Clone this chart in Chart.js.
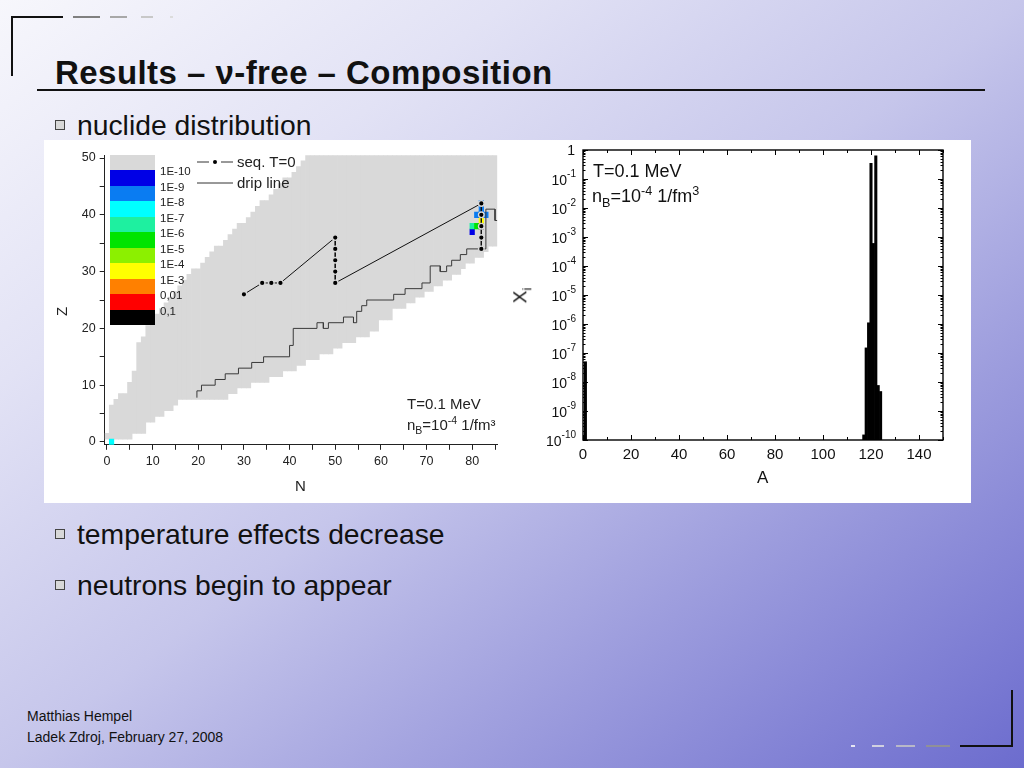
<!DOCTYPE html>
<html>
<head>
<meta charset="utf-8">
<script src="https://cdn.jsdelivr.net/npm/chart.js@4.4.1/dist/chart.umd.min.js"></script>
<style>
  html, body { margin: 0; padding: 0; }
  body {
    width: 1024px; height: 768px; position: relative; overflow: hidden;
    font-family: Arial, "Liberation Sans", sans-serif; color: #111;
    background: linear-gradient(to bottom right, #f7f7fc 0%, #e2e2f5 25%, #c6c6eb 50%, #9c9cdd 73%, #6c6cce 100%);
  }
  .abs { position: absolute; white-space: nowrap; }
  .panel { left: 44px; top: 140px; width: 927px; height: 363px; background: #fff; }
  .box { position: absolute; }
  .bullet { position: absolute; width: 8px; height: 8px; border: 1px solid #444; background: #d8d8d8; }
  .btxt { font-size: 28.3px; line-height: 28.3px; }
  sub, sup { font-size: 70%; line-height: 0; }
  .cbar { position: absolute; left: 110px; width: 45px; }
  .clab { position: absolute; left: 160px; font-size: 11.5px; line-height: 11.5px; color: #222; }
</style>
</head>
<body>

<!-- slide decorations -->
<div class="box" style="left:11px;top:16px;width:2px;height:60px;background:#111"></div>
<div class="box" style="left:11px;top:16px;width:52px;height:2px;background:#111"></div>
<div class="box" style="left:73px;top:16px;width:27px;height:2px;background:#808080"></div>
<div class="box" style="left:110px;top:16px;width:17px;height:2px;background:#a8a8a8"></div>
<div class="box" style="left:141px;top:16px;width:12px;height:2px;background:#c8c8c8"></div>
<div class="box" style="left:170px;top:16px;width:3px;height:2px;background:#dcdcdc"></div>

<div class="abs" style="left:55px;top:56px;font-size:33px;line-height:33px;font-weight:bold;letter-spacing:0.45px;">Results – ν-free – Composition</div>
<div class="box" style="left:37px;top:89px;width:948px;height:2px;background:#111"></div>

<div class="bullet" style="left:55px;top:120px"></div>
<div class="abs btxt" style="left:77px;top:110.5px">nuclide distribution</div>

<div class="abs panel"></div>

<div class="box" style="left:44px;top:140px;width:470px;height:363px"><canvas id="nuclideChart"></canvas></div>
<div class="box" style="left:530px;top:140px;width:441px;height:363px"><canvas id="massChart"></canvas></div>

<!-- left chart overlays -->
<div id="colorbar"></div>
<svg class="abs" style="left:190px;top:150px" width="50" height="45">
  <line x1="7" y1="12" x2="19" y2="12" stroke="#333" stroke-width="1"/>
  <circle cx="25" cy="12" r="2" fill="#000"/>
  <line x1="31" y1="12" x2="43" y2="12" stroke="#333" stroke-width="1"/>
  <line x1="7" y1="33" x2="43" y2="33" stroke="#333" stroke-width="1"/>
</svg>
<div class="abs" style="left:237px;top:154px;font-size:15px;line-height:15px;color:#222">seq. T=0</div>
<div class="abs" style="left:237px;top:175px;font-size:15px;line-height:15px;color:#222">drip line</div>
<div class="abs" style="left:407px;top:396px;font-size:15px;line-height:15px;color:#222">T=0.1 MeV</div>
<div class="abs" style="left:407px;top:417px;font-size:15px;line-height:15px;color:#222">n<sub>B</sub>=10<sup>-4</sup> 1/fm³</div>
<div class="abs" style="left:57px;top:304px;font-size:15px;line-height:15px;color:#222;transform:rotate(-90deg)">Z</div>
<div class="abs" style="left:295px;top:478px;font-size:15px;line-height:15px;color:#222">N</div>

<!-- right chart overlays -->
<div class="abs" style="left:593px;top:162px;font-size:18px;line-height:18px;">T=0.1 MeV</div>
<div class="abs" style="left:592px;top:187px;font-size:18px;line-height:18px;">n<sub>B</sub>=10<sup>-4</sup> 1/fm<sup>3</sup></div>
<div class="abs" style="left:757px;top:469px;font-size:17px;line-height:17px;">A</div>
<div class="abs" style="left:512px;top:286px;font-size:19px;line-height:19px;transform:rotate(-90deg)">X<sub>i</sub></div>

<div class="bullet" style="left:55px;top:529px"></div>
<div class="abs btxt" style="left:77px;top:519.5px">temperature effects decrease</div>
<div class="bullet" style="left:55px;top:580px"></div>
<div class="abs btxt" style="left:77px;top:570.5px">neutrons begin to appear</div>

<div class="abs" style="left:27px;top:709px;font-size:14px;line-height:14px;">Matthias Hempel</div>
<div class="abs" style="left:27px;top:730px;font-size:14px;line-height:14px;">Ladek Zdroj, February 27, 2008</div>

<div class="box" style="left:851px;top:745px;width:4px;height:2px;background:#e6e6f2"></div>
<div class="box" style="left:872px;top:745px;width:12px;height:2px;background:#d0d0e0"></div>
<div class="box" style="left:896px;top:745px;width:19px;height:2px;background:#b8b8c8"></div>
<div class="box" style="left:926px;top:745px;width:24px;height:2px;background:#909098"></div>
<div class="box" style="left:960px;top:745px;width:53px;height:2px;background:#111"></div>
<div class="box" style="left:1011px;top:690px;width:2px;height:57px;background:#111"></div>

<script>
// ---------- DATA: nuclide chart ----------
const nuclN = [0,1,2,3,4,5,6,7,8,9,10,11,12,13,14,15,16,17,18,19,20,21,22,23,24,25,26,27,28,29,
  30,31,32,33,34,35,36,37,38,39,40,41,42,43,44,45,46,47,48,49,50,51,52,53,54,55,56,57,58,59,
  60,61,62,63,64,65,66,67,68,69,70,71,72,73,74,75,76,77,78,79,80,81,82,83,84,85];
const zMin = [1,1,1,1,1,1,2,2,2,4,4,5,5,6,6,7,8,8,8,8,8,8,8,8,8,8,8,9,9,10,
  10,10,11,11,11,11,12,12,12,13,13,13,14,14,15,15,15,16,16,16,17,17,18,18,18,19,19,19,20,20,
  22,22,22,24,24,24,25,25,26,26,27,27,28,28,29,29,30,30,31,32,32,33,33,34,35,35];
const zMax = [1,6,7,8,8,10,12,17,18,20,21,22,23,24,25,26,27,28,29,30,30,31,32,33,34,34,35,36,37,38,
  38,39,40,41,42,42,43,44,45,46,46,47,48,49,50,50,50,50,50,50,50,50,50,50,50,50,50,50,50,50,
  50,50,50,50,50,50,50,50,50,50,50,50,50,50,50,50,50,50,50,50,50,50,50,50,50,50];

const dripN = [19.7,19.7,20.7,20.7,23.7,23.7,25.9,25.9,28.8,28.8,31.7,31.7,34.3,34.3,40,40,40.8,40.8,46,46,
  47.4,47.4,48.5,48.5,51.8,51.8,54,54,54.7,54.7,55.8,55.8,56.9,56.9,62.8,62.8,65.3,65.3,69,69,
  70.8,70.8,73,73,74.4,74.4,75.5,75.5,77.4,77.4,78.8,78.8,83,83,85,85,85.5];
const dripZ = [7.8,9,9,10,10,11,11,12,12,13,13,14,14,15,15,17,17,20,20,21,
  21,20,20,21,21,22,22,21,21,23,23,24,24,25,25,26,26,27,27,28,
  28,31,31,30,30,31,31,32,32,33,33,34,34,41,41,39,39];

const seqN = [30,34,36,38,50,50,50,50,50,82,82,82,82,82];
const seqZ = [26,28,28,28,36,34,32,30,28,42,40,38,36,34];

const cellN = [1,80,80,81,82,82,81,82,83,82,82];
const cellZ = [0,37,38,38,38,39,40,40,40,41,42];
const cellX = [5e-8,1.5e-10,1.5e-7,1.1e-6,0.35,6e-4,3e-9,0.63,5e-9,3e-9,4.7e-9];

const binLabels = ['1E-10','1E-9','1E-8','1E-7','1E-6','1E-5','1E-4','1E-3','0,01','0,1'];
const binColors = ['#0000e6','#0a7cf2','#00ffff','#1ef0a0','#00e400','#8cf000','#ffff00','#ff8000','#ff0000','#000000'];

// ---------- DATA: mass distribution ----------
const massA = [1,117,118,119,120,121,122,123,124];
const massX = [5e-8,1.5e-10,1.5e-7,1.1e-6,0.35,6e-4,0.63,7.6e-9,4.7e-9];
const xLabelsA = [0,20,40,60,80,100,120,140];
const decades = [-10,-9,-8,-7,-6,-5,-4,-3,-2,-1,0];

Chart.defaults.font.family = 'Arial, "Liberation Sans", sans-serif';

// colour scale legend (HTML)
const cb = document.getElementById('colorbar');
cb.innerHTML = '<div class="cbar" style="top:155px;height:15px;background:#d9d9d9"></div>' +
  binColors.map((c, i) =>
    '<div class="cbar" style="top:' + (170 + i * 15.5) + 'px;height:15.6px;background:' + c + '"></div>' +
    '<div class="clab" style="top:' + (166 + i * 15.5) + 'px">' + binLabels[i] + '</div>').join('');

function binColor(v) {
  let k = Math.floor(Math.log10(v)) + 10;
  k = Math.max(0, Math.min(binColors.length - 1, k));
  return binColors[k];
}

// ---------- LEFT: nuclide chart ----------
const tableCells = nuclN.map((n, i) => ({ x: n, y: [zMin[i] - 0.5, zMax[i] + 0.5] }));
const abundCells = cellN.map((n, i) => ({ x: n, y: [cellZ[i] - 0.5, cellZ[i] + 0.5] }));

const axisStyle = {
  border: { display: true, color: '#222', width: 1 },
  grid: { display: true, drawOnChartArea: false, drawTicks: true, tickLength: 5, tickColor: '#222', offset: false },
};

new Chart(document.getElementById('nuclideChart'), {
  type: 'bar',
  data: {
    datasets: [
      { type: 'line', label: 'seq. T=0', data: seqN.map((n, i) => ({ x: n, y: seqZ[i] })),
        borderColor: '#111', borderWidth: 1, pointRadius: 2.8, pointBackgroundColor: '#000',
        pointBorderColor: '#d9d9d9', pointBorderWidth: 1.4, order: 1 },
      { type: 'line', label: 'drip line', data: dripN.map((n, i) => ({ x: n, y: dripZ[i] })),
        borderColor: '#3a3a3a', borderWidth: 1, pointRadius: 0, order: 2 },
      { label: 'X', data: abundCells, backgroundColor: cellX.map(binColor),
        grouped: false, barPercentage: 1, categoryPercentage: 1, order: 3 },
      { label: 'table', data: tableCells, backgroundColor: '#d9d9d9',
        grouped: false, barPercentage: 1, categoryPercentage: 1, order: 4 },
    ]
  },
  options: {
    responsive: true, maintainAspectRatio: false, animation: false, events: [],
    layout: { padding: { left: 0, top: 15.2, right: 16.7, bottom: 0 } },
    plugins: { legend: { display: false }, tooltip: { enabled: false } },
    scales: {
      x: { ...axisStyle, type: 'linear', min: -0.5, max: 85.5, offset: false,
           afterFit: (s) => { s.height = 58.2; },
           ticks: { stepSize: 5, includeBounds: false, autoSkip: false, maxRotation: 0, padding: 4,
                    color: '#222', font: { size: 12.5 }, callback: (v) => v % 10 === 0 ? v : '' } },
      y: { ...axisStyle, type: 'linear', min: -0.5, max: 50.5, beginAtZero: false,
           afterFit: (s) => { s.width = 60.7; },
           ticks: { stepSize: 5, includeBounds: false, autoSkip: false, padding: 4,
                    color: '#222', font: { size: 12.5 }, callback: (v) => v % 10 === 0 ? v : '' } }
    }
  }
});

// ---------- RIGHT: mass fraction vs A ----------
const frame = {
  id: 'frame',
  afterDatasetsDraw(chart) {
    const { ctx, chartArea: a, scales: { x, y } } = chart;
    ctx.save();
    ctx.strokeStyle = '#000';
    ctx.lineWidth = 1.4;
    ctx.strokeRect(a.left, a.top, a.right - a.left, a.bottom - a.top);
    ctx.lineWidth = 1;
    ctx.beginPath();
    for (let v = 0; v <= 150; v += 10) {
      const px = Math.round(x.getPixelForValue(v)) + 0.5;
      const len = v % 20 === 0 ? 5 : 3;
      ctx.moveTo(px, a.bottom); ctx.lineTo(px, a.bottom - len);
      ctx.moveTo(px, a.top); ctx.lineTo(px, a.top + len);
    }
    decades.forEach((k) => {
      for (let m = 1; m <= 9; m++) {
        if (k === 0 && m > 1) break;
        const py = Math.round(y.getPixelForValue(m * Math.pow(10, k))) + 0.5;
        const len = m === 1 ? 5 : 2.5;
        ctx.moveTo(a.left, py); ctx.lineTo(a.left + len, py);
        ctx.moveTo(a.right, py); ctx.lineTo(a.right - len, py);
      }
    });
    ctx.stroke();

    ctx.fillStyle = '#111';
    ctx.textBaseline = 'middle';
    ctx.textAlign = 'center';
    ctx.font = '15px Arial';
    xLabelsA.forEach((v) => ctx.fillText(String(v), x.getPixelForValue(v), a.bottom + 15));

    ctx.textAlign = 'right';
    const rx = a.left - 7;
    decades.forEach((k) => {
      const py = y.getPixelForValue(Math.pow(10, k));
      if (k === 0) { ctx.font = '14px Arial'; ctx.fillText('1', rx - 1, py + 1); return; }
      const e = String(k);
      ctx.font = '10px Arial';
      ctx.fillText(e, rx, py - 5);
      const ew = ctx.measureText(e).width;
      ctx.font = '14px Arial';
      ctx.fillText('10', rx - ew, py + 2);
    });
    ctx.restore();
  }
};

const yFloor = 1e-10;
new Chart(document.getElementById('massChart'), {
  type: 'bar',
  data: {
    datasets: [{
      label: 'X_i',
      data: massA.map((A, i) => ({ x: A, y: [yFloor, massX[i]] })),
      backgroundColor: '#000', borderWidth: 0,
      barPercentage: 1, categoryPercentage: 1
    }]
  },
  options: {
    responsive: true, maintainAspectRatio: false, animation: false, events: [],
    layout: { padding: { left: 53, top: 10, right: 28, bottom: 63 } },
    plugins: { legend: { display: false }, tooltip: { enabled: false } },
    scales: {
      x: { type: 'linear', display: false, min: 0, max: 150, offset: false, grid: { offset: false } },
      y: { type: 'logarithmic', display: false, min: yFloor, max: 1 }
    }
  },
  plugins: [frame]
});
</script>
</body>
</html>
